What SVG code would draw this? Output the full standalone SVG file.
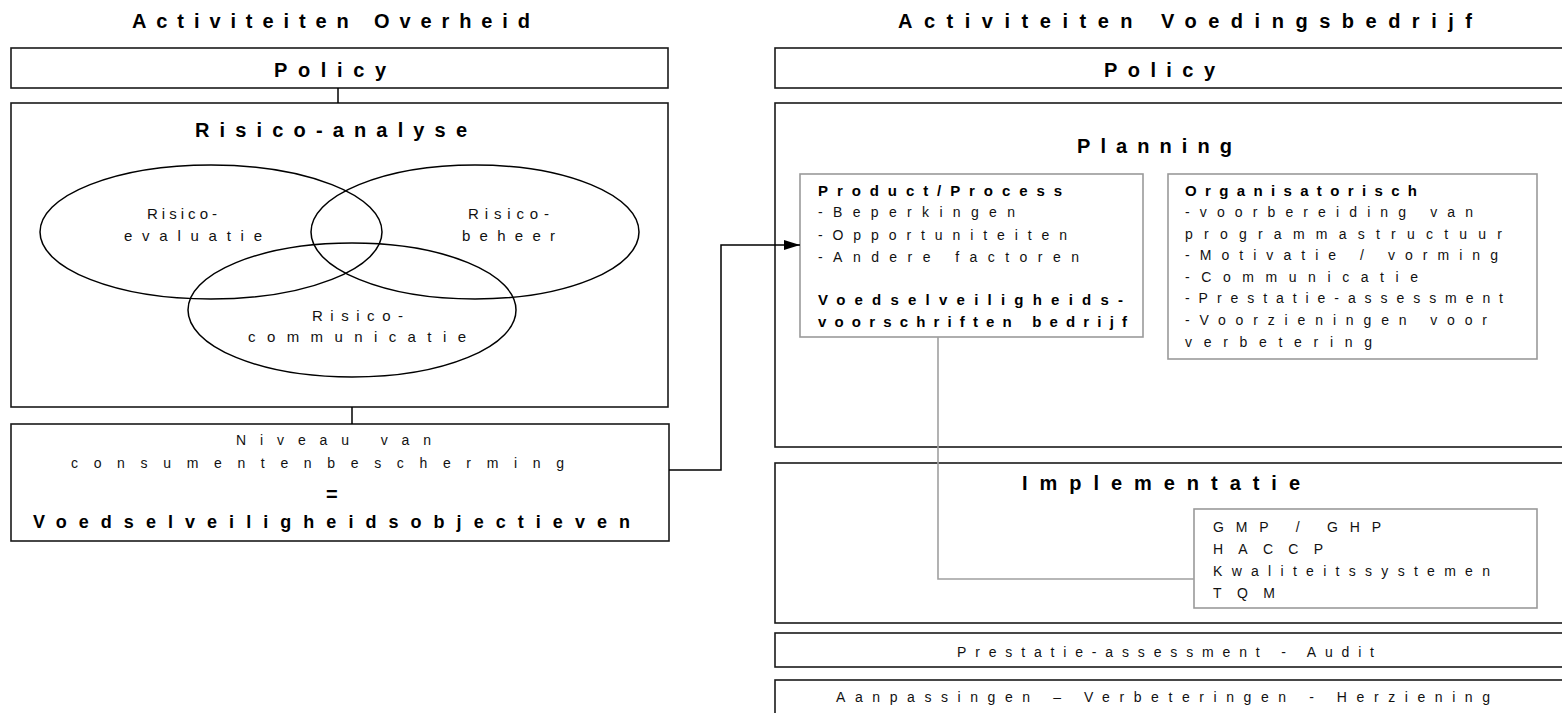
<svg xmlns="http://www.w3.org/2000/svg" width="1562" height="713" viewBox="0 0 1562 713">
<style>
  .box{fill:#fff;stroke:#1a1a1a;stroke-width:1.6}
  .inner{fill:#fff;stroke:#9a9a9a;stroke-width:1.6}
  .ell{fill:none;stroke:#000;stroke-width:1.5}
  .h{font-family:"Liberation Sans",Arial,sans-serif;font-weight:bold;font-size:20px;fill:#000}
  .hb{font-family:"Liberation Sans",Arial,sans-serif;font-weight:bold;font-size:15px;fill:#000}
  .t{font-family:"Liberation Sans",Arial,sans-serif;font-size:14px;fill:#111}
  .te{font-family:"Liberation Sans",Arial,sans-serif;font-size:15px;fill:#111}
  .con{fill:none;stroke:#000;stroke-width:1.5}
  .gcon{fill:none;stroke:#a0a0a0;stroke-width:1.6}
</style>
<defs>
  <marker id="arr" viewBox="0 0 16 10" refX="16" refY="5" markerWidth="16" markerHeight="10" markerUnits="userSpaceOnUse" orient="auto">
    <path d="M0,0 L16,5 L0,10 Z" fill="#000"/>
  </marker>
</defs>
<rect width="1562" height="713" fill="#fff"/>

<g id="left-title">
  <text class="h" x="132" y="28" textLength="398" lengthAdjust="spacing">Activiteiten Overheid</text>
</g>
<g id="left-policy">
  <rect class="box" x="11" y="48" width="657" height="40"/>
  <text class="h" x="274" y="77" textLength="112" lengthAdjust="spacing">Policy</text>
</g>
<g id="risico-analyse">
  <rect class="box" x="11" y="103" width="657" height="304"/>
  <text class="h" x="195" y="137" textLength="272" lengthAdjust="spacing">Risico-analyse</text>
  <g id="risico-evaluatie">
    <ellipse class="ell" cx="211" cy="232" rx="171" ry="67"/>
    <text class="te" x="147" y="219" textLength="70" lengthAdjust="spacing">Risico-</text>
    <text class="te" x="124" y="241" textLength="138" lengthAdjust="spacing">evaluatie</text>
  </g>
  <g id="risico-beheer">
    <ellipse class="ell" cx="475" cy="232" rx="164" ry="67"/>
    <text class="te" x="468" y="219" textLength="81" lengthAdjust="spacing">Risico-</text>
    <text class="te" x="462" y="241" textLength="93" lengthAdjust="spacing">beheer</text>
  </g>
  <g id="risico-communicatie">
    <ellipse class="ell" cx="352" cy="310" rx="164" ry="67"/>
    <text class="te" x="312" y="321" textLength="91" lengthAdjust="spacing">Risico-</text>
    <text class="te" x="248" y="342" textLength="218" lengthAdjust="spacing">communicatie</text>
  </g>
</g>
<g id="niveau">
  <rect class="box" x="11" y="424" width="658" height="117"/>
  <text class="t" x="236" y="445" textLength="195" lengthAdjust="spacing">Niveau van</text>
  <text class="t" x="71" y="468" textLength="493" lengthAdjust="spacing">consumentenbescherming</text>
  <text class="h" x="326" y="501">=</text>
  <text class="h" style="font-size:18px" x="33" y="528" textLength="597" lengthAdjust="spacing">Voedselveiligheidsobjectieven</text>
</g>

<g id="right-title">
  <text class="h" x="898" y="28" textLength="574" lengthAdjust="spacing">Activiteiten Voedingsbedrijf</text>
</g>
<g id="right-policy">
  <rect class="box" x="775" y="48" width="800" height="40"/>
  <text class="h" x="1104" y="77" textLength="111" lengthAdjust="spacing">Policy</text>
</g>
<g id="planning">
  <rect class="box" x="775" y="103" width="800" height="344"/>
  <text class="h" x="1077" y="153" textLength="155" lengthAdjust="spacing">Planning</text>
</g>
<g id="product-process">
  <rect class="inner" x="800" y="174" width="343" height="163"/>
  <text class="hb" x="818" y="196" textLength="244" lengthAdjust="spacing">Product/Process</text>
  <text class="t" x="818" y="217" textLength="197" lengthAdjust="spacing">-Beperkingen</text>
  <text class="t" x="818" y="240" textLength="249" lengthAdjust="spacing">-Opportuniteiten</text>
  <text class="t" x="818" y="262" textLength="261" lengthAdjust="spacing">-Andere factoren</text>
  <text class="hb" x="818" y="305" textLength="305" lengthAdjust="spacing">Voedselveiligheids-</text>
  <text class="hb" x="818" y="327" textLength="309" lengthAdjust="spacing">voorschriften bedrijf</text>
</g>
<g id="organisatorisch">
  <rect class="inner" x="1168" y="174" width="369" height="185"/>
  <text class="hb" x="1185" y="196" textLength="232" lengthAdjust="spacing">Organisatorisch</text>
  <text class="t" x="1185" y="217" textLength="288" lengthAdjust="spacing">-voorbereiding van</text>
  <text class="t" x="1185" y="239" textLength="317" lengthAdjust="spacing">programmastructuur</text>
  <text class="t" x="1185" y="260" textLength="313" lengthAdjust="spacing">-Motivatie / vorming</text>
  <text class="t" x="1185" y="282" textLength="233" lengthAdjust="spacing">-Communicatie</text>
  <text class="t" x="1185" y="303" textLength="318" lengthAdjust="spacing">-Prestatie-assessment</text>
  <text class="t" x="1185" y="325" textLength="302" lengthAdjust="spacing">-Voorzieningen voor</text>
  <text class="t" x="1185" y="347" textLength="187" lengthAdjust="spacing">verbetering</text>
</g>
<g id="implementatie">
  <rect class="box" x="775" y="463" width="800" height="160"/>
  <text class="h" x="1022" y="490" textLength="278" lengthAdjust="spacing">Implementatie</text>
</g>
<g id="systemen">
  <rect class="inner" x="1194" y="509" width="343" height="99"/>
  <text class="t" x="1213" y="532" textLength="168" lengthAdjust="spacing">GMP / GHP</text>
  <text class="t" x="1213" y="554" textLength="110" lengthAdjust="spacing">HACCP</text>
  <text class="t" x="1213" y="576" textLength="277" lengthAdjust="spacing">Kwaliteitssystemen</text>
  <text class="t" x="1213" y="598" textLength="62" lengthAdjust="spacing">TQM</text>
</g>
<g id="prestatie">
  <rect class="box" x="775" y="633" width="800" height="34"/>
  <text class="t" x="957" y="657" textLength="417" lengthAdjust="spacing">Prestatie-assessment - Audit</text>
</g>
<g id="aanpassingen">
  <rect class="box" x="775" y="680" width="800" height="50"/>
  <text class="t" x="836" y="702" textLength="654" lengthAdjust="spacing">Aanpassingen – Verbeteringen - Herziening</text>
</g>

<g id="connectors">
  <line class="con" x1="338" y1="88" x2="338" y2="103"/>
  <line class="con" x1="352" y1="407" x2="352" y2="424"/>
  <path class="con" d="M669,470 H721 V245 H800" marker-end="url(#arr)"/>
  <path class="gcon" d="M938,337 V579 H1194"/>
</g>
</svg>
